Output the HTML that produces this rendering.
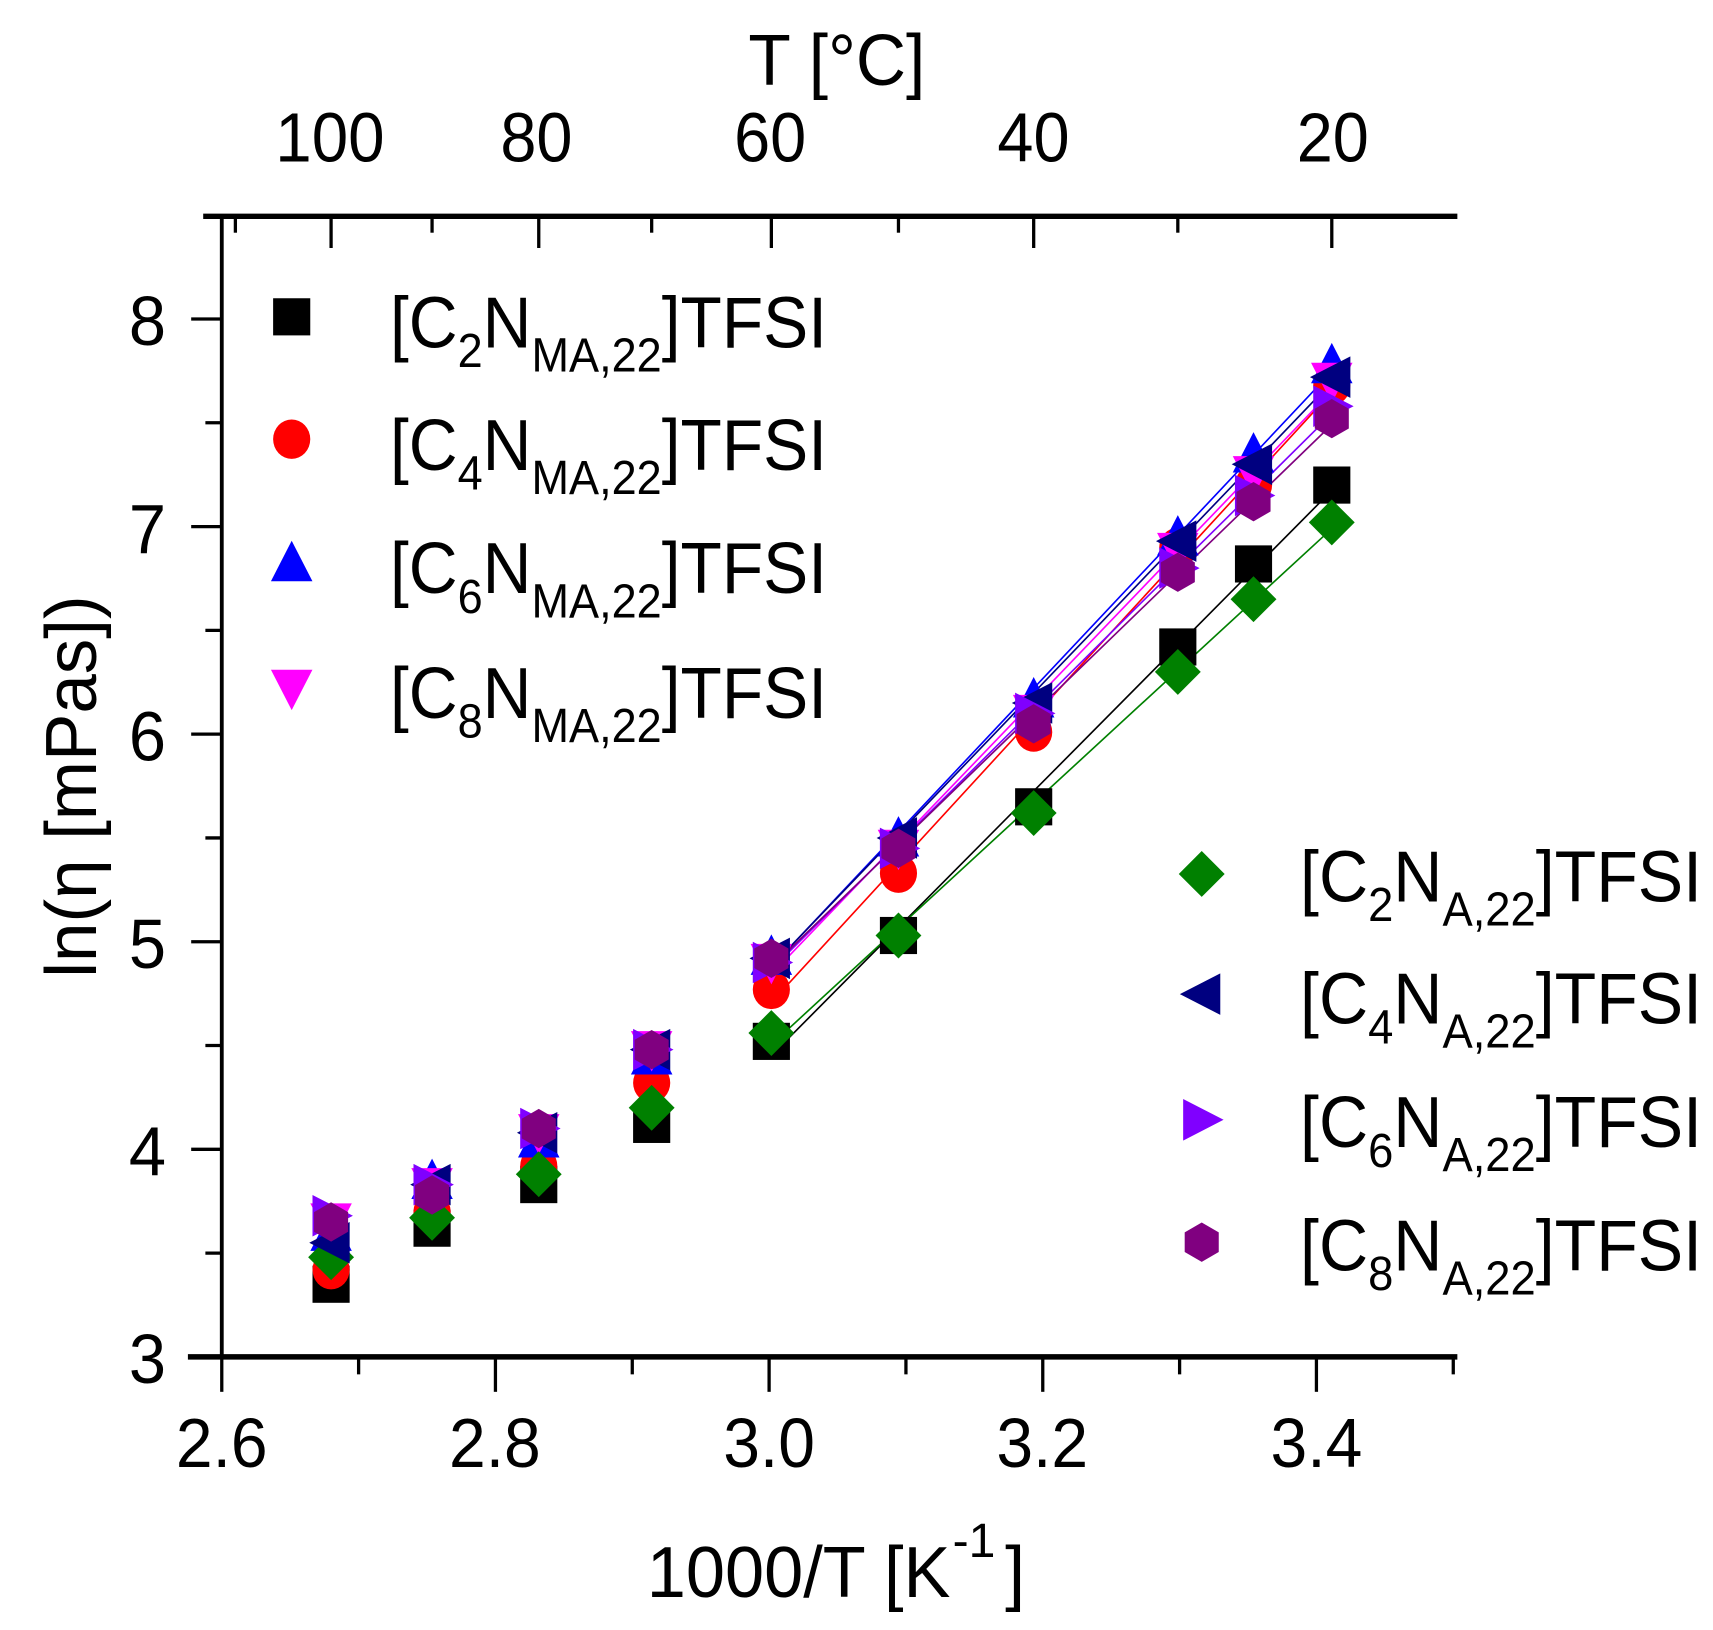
<!DOCTYPE html>
<html><head><meta charset="utf-8"><style>html,body{margin:0;padding:0;background:#fff}svg{display:block}text{font-family:"Liberation Sans",sans-serif;fill:#000}</style></head>
<body>
<svg id="s" width="1713" height="1630" viewBox="0 0 1568 1492" preserveAspectRatio="none" xmlns="http://www.w3.org/2000/svg">
<rect width="1568" height="1492" fill="#fff"/>
<g id="plot"></g>
<line x1="203" y1="198" x2="203" y2="1244" stroke="#000" stroke-width="3.5"/>
<line x1="172" y1="1242" x2="1334" y2="1242" stroke="#000" stroke-width="5"/>
<line x1="186" y1="198" x2="1334" y2="198" stroke="#000" stroke-width="5"/>
<g id="ticks" stroke="#000" stroke-width="3"></g>
<g font-size="64" text-anchor="middle">
<text x="203" y="1343" textLength="84" lengthAdjust="spacingAndGlyphs">2.6</text>
<text x="453" y="1343" textLength="84" lengthAdjust="spacingAndGlyphs">2.8</text>
<text x="704" y="1343" textLength="84" lengthAdjust="spacingAndGlyphs">3.0</text>
<text x="954" y="1343" textLength="84" lengthAdjust="spacingAndGlyphs">3.2</text>
<text x="1205" y="1343" textLength="84" lengthAdjust="spacingAndGlyphs">3.4</text>
<text x="302" y="148" textLength="100" lengthAdjust="spacingAndGlyphs">100</text>
<text x="491" y="148" textLength="66" lengthAdjust="spacingAndGlyphs">80</text>
<text x="705" y="148" textLength="66" lengthAdjust="spacingAndGlyphs">60</text>
<text x="946" y="148" textLength="66" lengthAdjust="spacingAndGlyphs">40</text>
<text x="1220" y="148" textLength="66" lengthAdjust="spacingAndGlyphs">20</text>
</g>
<g font-size="64" text-anchor="end">
<text x="152" y="1266" textLength="34" lengthAdjust="spacingAndGlyphs">3</text>
<text x="152" y="1076" textLength="34" lengthAdjust="spacingAndGlyphs">4</text>
<text x="152" y="886" textLength="34" lengthAdjust="spacingAndGlyphs">5</text>
<text x="152" y="696" textLength="34" lengthAdjust="spacingAndGlyphs">6</text>
<text x="152" y="506" textLength="34" lengthAdjust="spacingAndGlyphs">7</text>
<text x="152" y="316" textLength="34" lengthAdjust="spacingAndGlyphs">8</text>
</g>
<text x="766" y="78" font-size="66" text-anchor="middle" textLength="162" lengthAdjust="spacingAndGlyphs">T [°C]</text>
<text x="592" y="1462" font-size="66" textLength="278" lengthAdjust="spacingAndGlyphs">1000/T [K</text>
<text x="872" y="1425" font-size="44">-1</text>
<text x="920" y="1462" font-size="66">]</text>
<text transform="translate(88,720) rotate(-90)" font-size="66" text-anchor="middle" textLength="350" lengthAdjust="spacingAndGlyphs">ln(η [mPas])</text>
<g id="leg"></g>
<g font-size="66">
<text x="357" y="318" textLength="400" lengthAdjust="spacingAndGlyphs">[C<tspan font-size="44" dy="18">2</tspan><tspan dy="-18">N</tspan><tspan font-size="44" dy="22">MA,22</tspan><tspan dy="-22">]TFSI</tspan></text>
<text x="357" y="430" textLength="400" lengthAdjust="spacingAndGlyphs">[C<tspan font-size="44" dy="18">4</tspan><tspan dy="-18">N</tspan><tspan font-size="44" dy="22">MA,22</tspan><tspan dy="-22">]TFSI</tspan></text>
<text x="357" y="543" textLength="400" lengthAdjust="spacingAndGlyphs">[C<tspan font-size="44" dy="18">6</tspan><tspan dy="-18">N</tspan><tspan font-size="44" dy="22">MA,22</tspan><tspan dy="-22">]TFSI</tspan></text>
<text x="357" y="657" textLength="400" lengthAdjust="spacingAndGlyphs">[C<tspan font-size="44" dy="18">8</tspan><tspan dy="-18">N</tspan><tspan font-size="44" dy="22">MA,22</tspan><tspan dy="-22">]TFSI</tspan></text>
<text x="1190" y="825" textLength="368" lengthAdjust="spacingAndGlyphs">[C<tspan font-size="44" dy="18">2</tspan><tspan dy="-18">N</tspan><tspan font-size="44" dy="22">A,22</tspan><tspan dy="-22">]TFSI</tspan></text>
<text x="1190" y="937" textLength="368" lengthAdjust="spacingAndGlyphs">[C<tspan font-size="44" dy="18">4</tspan><tspan dy="-18">N</tspan><tspan font-size="44" dy="22">A,22</tspan><tspan dy="-22">]TFSI</tspan></text>
<text x="1190" y="1050" textLength="368" lengthAdjust="spacingAndGlyphs">[C<tspan font-size="44" dy="18">6</tspan><tspan dy="-18">N</tspan><tspan font-size="44" dy="22">A,22</tspan><tspan dy="-22">]TFSI</tspan></text>
<text x="1190" y="1163" textLength="368" lengthAdjust="spacingAndGlyphs">[C<tspan font-size="44" dy="18">8</tspan><tspan dy="-18">N</tspan><tspan font-size="44" dy="22">A,22</tspan><tspan dy="-22">]TFSI</tspan></text>
</g>
</svg>
<script>
const NS="http://www.w3.org/2000/svg";
const X=v=>203+(v-2.6)*1252.5, Y=v=>1242-(v-3)*190;
function el(p,t,a){const e=document.createElementNS(NS,t);for(const k in a)e.setAttribute(k,a[k]);p.appendChild(e);return e;}
const tk=document.getElementById('ticks');
for(let i=0;i<=9;i++){const v=2.6+i*0.1,x=X(v);el(tk,'line',{x1:x,y1:1242,x2:x,y2:i%2?1258:1274});}
for(let i=0;i<=10;i++){const v=3+i*0.5,y=Y(v);el(tk,'line',{x1:203,y1:y,x2:i%2?188:175,y2:y});}
for(let T=110;T>=20;T-=10){const x=X(1000/(T+273.15));el(tk,'line',{x1:x,y1:198,x2:x,y2:T%20?213:227});}
const xs=[100,90,80,70,60,50,40,30,25,20].map(T=>1000/(T+273.15));
const S=[
['sq','#000',[3.35,3.62,3.83,4.12,4.52,5.03,5.65,6.42,6.82,7.2]],
['ci','#ff0000',[3.42,3.7,3.92,4.32,4.77,5.33,6.01,6.9,7.2,7.68]],
['up','#0000ff',[3.6,3.85,4.05,4.45,4.93,5.5,6.17,6.95,7.35,7.78]],
['dn','#ff00ff',[3.65,3.82,4.08,4.48,4.9,5.45,6.1,6.88,7.25,7.7]],
['di','#008000',[3.48,3.67,3.88,4.2,4.56,5.03,5.62,6.3,6.65,7.02]],
['lt','#000080',[3.55,3.83,4.08,4.48,4.92,5.5,6.15,6.93,7.3,7.72]],
['rt','#8000ff',[3.68,3.83,4.1,4.48,4.9,5.45,6.1,6.8,7.15,7.58]],
['hx','#800080',[3.65,3.78,4.1,4.48,4.92,5.45,6.05,6.78,7.12,7.52]]];
function mk(p,s,c,x,y){const r=17;let pts;
 if(s=='sq')return el(p,'rect',{x:x-r,y:y-r,width:2*r,height:2*r,fill:c});
 if(s=='ci')return el(p,'ellipse',{cx:x,cy:y,rx:r,ry:r+1,fill:c});
 if(s=='up')pts=[[x,y-r-3],[x+r+2,y+r],[x-r-2,y+r]];
 if(s=='dn')pts=[[x,y+r+3],[x+r+2,y-r],[x-r-2,y-r]];
 if(s=='lt')pts=[[x-r-3,y],[x+r,y-r-2],[x+r,y+r+2]];
 if(s=='rt')pts=[[x+r+3,y],[x-r,y-r-2],[x-r,y+r+2]];
 if(s=='di')pts=[[x,y-r-4],[x+r+4,y],[x,y+r+4],[x-r-4,y]];
 if(s=='hx'){pts=[];for(let k=0;k<6;k++){const a=Math.PI/6+k*Math.PI/3;pts.push([x+(r+1)*Math.cos(a),y+(r+1)*Math.sin(a)]);}}
 return el(p,'polygon',{points:pts.map(q=>q.join(',')).join(' '),fill:c});}
const pl=document.getElementById('plot');
S.forEach(([s,c,v])=>{const xx=xs.slice(4),yy=v.slice(4),n=xx.length;
 const mx=xx.reduce((a,b)=>a+b)/n,my=yy.reduce((a,b)=>a+b)/n;let sxy=0,sxx=0;
 for(let i=0;i<n;i++){sxy+=(xx[i]-mx)*(yy[i]-my);sxx+=(xx[i]-mx)**2;}
 const b=sxy/sxx,a=my-b*mx,x0=3.0,x1=3.412;
 el(pl,'line',{x1:X(x0),y1:Y(a+b*x0),x2:X(x1),y2:Y(a+b*x1),stroke:c,'stroke-width':1.5});});
S.forEach(([s,c,v])=>{v.forEach((y,i)=>mk(pl,s,c,X(xs[i]),Y(y)));});
const lg=document.getElementById('leg');
const L=[[267,290],[267,402],[267,515],[267,630],[1100,800],[1100,910],[1100,1025],[1100,1137]];
L.forEach((p,i)=>mk(lg,S[i][0],S[i][1],p[0],p[1]));
</script>
</body></html>
